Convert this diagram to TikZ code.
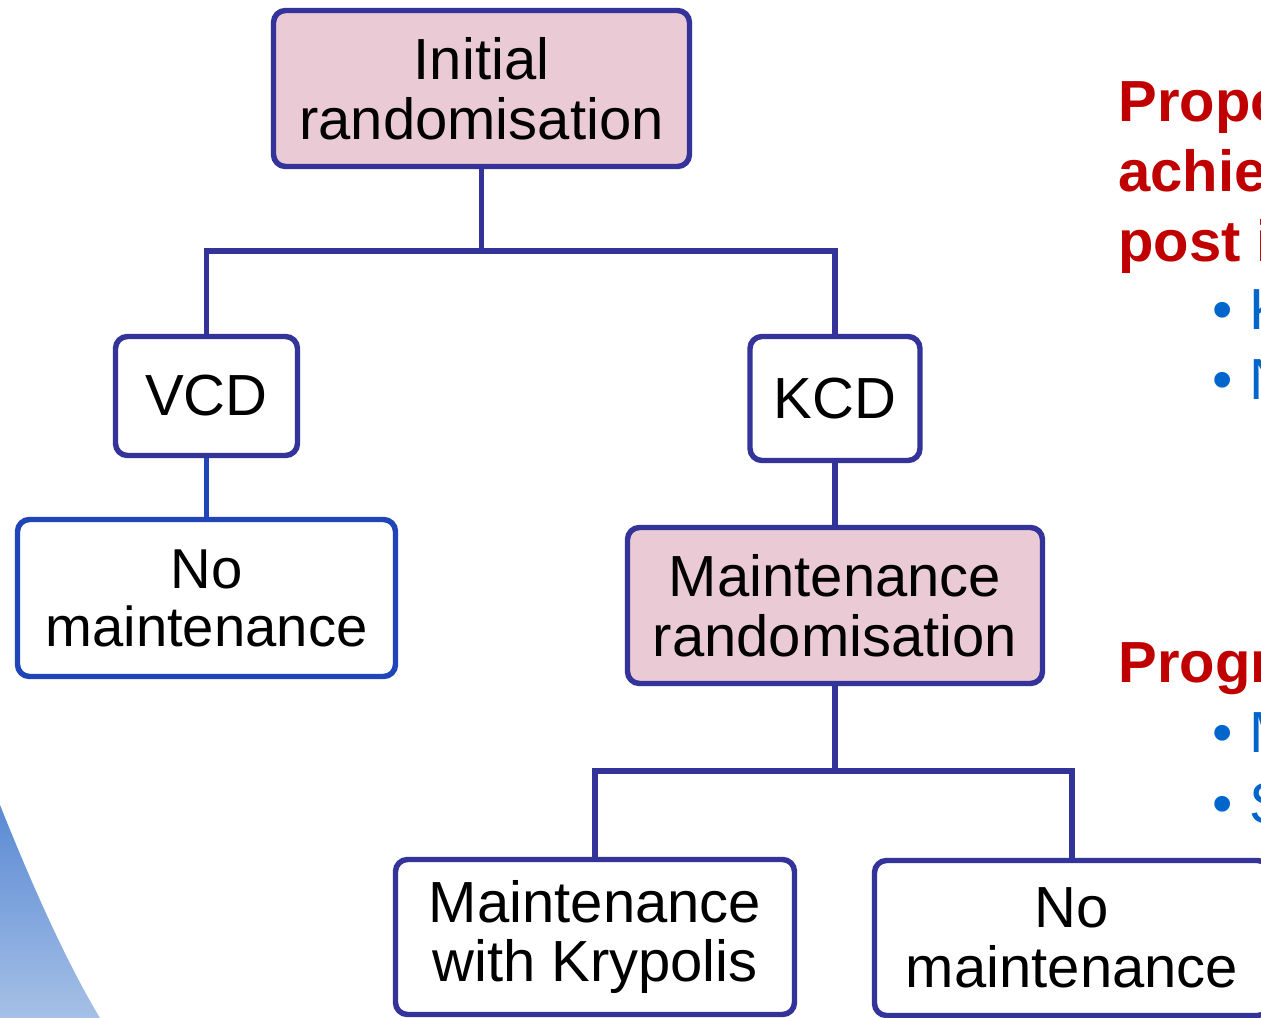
\documentclass[tikz,border=0pt]{standalone}
\usepackage{fontspec}
\setmainfont{Liberation Sans}
\usepackage{tikz}
\definecolor{BoxNavy}{HTML}{333399}
\definecolor{BoxBlue}{HTML}{1F45B8}
\definecolor{StagePink}{HTML}{EACAD4}
\definecolor{TitleRed}{HTML}{C00000}
\definecolor{BulletBlue}{HTML}{0066CC}
\definecolor{WaveTop}{HTML}{5A8AD4}
\definecolor{WaveBottom}{HTML}{A6C0E6}

\begin{document}
\begin{tikzpicture}[every node/.style={font=\fontsize{33}{34}\selectfont},
  arm/.style={draw=BoxNavy, line width=3.1pt, rounded corners=0.24cm, fill=white, align=center, inner sep=0pt},
  stage/.style={arm, fill=StagePink},
  link/.style={draw=BoxNavy, line width=3.1pt},
  note/.style={anchor=base west, inner sep=0pt, text=TitleRed, font=\fontsize{33}{40}\selectfont\bfseries},
  item/.style={anchor=base west, inner sep=0pt, text=BulletBlue}]
  \useasboundingbox (0,0) rectangle (25.22,-20.36);
  \shade[top color=WaveTop, bottom color=WaveBottom] (0,-16.1) .. controls (0.6,-17.6) and (1.3,-19.2) .. (2.0,-20.36) -- (0,-20.36) -- cycle;

  % first randomisation
  \node[stage, minimum width=8.32cm, minimum height=3.12cm] (init) at (9.63,-1.77) {Initial\\randomisation};
  \node[arm, minimum width=3.64cm, minimum height=2.38cm] (vcd) at (4.13,-7.92) {VCD};
  \node[arm, minimum width=3.4cm, minimum height=2.48cm] (kcd) at (16.70,-7.97) {KCD};
  \node[arm, draw=BoxBlue, minimum width=7.56cm, minimum height=3.14cm, font=\fontsize{32}{33}\selectfont] (nomaint) at (4.13,-11.96) {No\\maintenance};
  \coordinate (fork) at (9.63,-5.02);
  \draw[link] (init) -- (fork);
  \draw[link] (vcd) |- (fork) -| (kcd);
  \draw[link, draw=BoxBlue] (vcd) -- (nomaint);

  % maintenance randomisation
  \node[stage, minimum width=8.3cm, minimum height=3.12cm] (mrand) at (16.70,-12.11) {Maintenance\\randomisation};
  \node[arm, minimum width=7.98cm, minimum height=3.1cm] (kryp) at (11.90,-18.74) {Maintenance\\with Krypolis};
  \node[arm, minimum width=7.9cm, minimum height=3.1cm] (stop) at (21.44,-18.76) {No\\maintenance};
  \coordinate (fork2) at (16.70,-15.42);
  \draw[link] (kcd) -- (mrand);
  \draw[link] (mrand) -- (fork2);
  \draw[link] (kryp) |- (fork2) -| (stop);

  % side text
  \node[note] (aim1) at (22.36,-2.44) {Propo};
  \node[note] (aim2) at (22.36,-3.84) {achie};
  \node[note] (aim3) at (22.36,-5.24) {post i};
  \node[item] (k1) at (24.24,-6.60) {\textbullet\hspace{0.34cm}K};
  \node[item] (k2) at (24.24,-8.00) {\textbullet\hspace{0.34cm}N};
  \node[note] (prog) at (22.36,-13.66) {Progr};
  \node[item] (p1) at (24.24,-15.06) {\textbullet\hspace{0.34cm}M};
  \node[item] (p2) at (24.24,-16.46) {\textbullet\hspace{0.34cm}S};
\end{tikzpicture}
\end{document}
